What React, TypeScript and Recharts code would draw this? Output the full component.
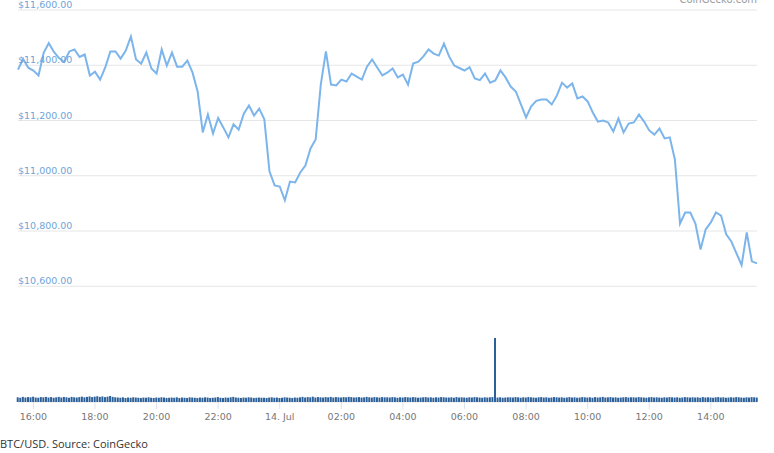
import { ComposedChart, Line, Bar, XAxis, YAxis, CartesianGrid } from 'recharts';

// minutes after 13 Jul 15:30, price every 10 min, volume every 5 min
const prices = [
  11384, 11423, 11391, 11381, 11363, 11445, 11480, 11448, 11426, 11412, 11450, 11457,
  11430, 11439, 11363, 11377, 11348, 11392, 11450, 11450, 11424, 11453, 11504, 11421,
  11406, 11446, 11388, 11370, 11457, 11399, 11446, 11395, 11395, 11417, 11374, 11305,
  11157, 11222, 11153, 11209, 11175, 11139, 11186, 11167, 11225, 11254, 11218, 11243,
  11204, 11016, 10965, 10961, 10911, 10979, 10976, 11012, 11037, 11099, 11131, 11330,
  11450, 11330, 11327, 11348, 11341, 11370, 11359, 11348, 11395, 11421, 11392, 11363,
  11374, 11388, 11356, 11366, 11330, 11406, 11413, 11432, 11457, 11442, 11435, 11478,
  11432, 11399, 11390, 11381, 11393, 11352, 11346, 11370, 11337, 11345, 11381, 11356,
  11323, 11305, 11258, 11211, 11251, 11271, 11276, 11276, 11258, 11290, 11337, 11319,
  11334, 11280, 11287, 11269, 11229, 11196, 11200, 11193, 11160, 11207, 11157, 11189,
  11193, 11222, 11196, 11164, 11149, 11171, 11135, 11139, 11059, 10827, 10867, 10867,
  10827, 10733, 10806, 10831, 10867, 10856, 10788, 10762, 10719, 10676, 10795, 10690,
  10683,
];

const volumes = [
  22, 20, 24, 21, 23, 22, 25, 21, 20, 23, 22, 24, 21, 23, 20, 22, 24, 21, 23, 22, 20, 24, 22, 21,
  23, 25, 22, 24, 26, 23, 25, 27, 24, 26, 23, 25, 28, 24, 22, 21, 20, 22, 19, 21, 20, 22, 21, 20,
  19, 21, 20, 22, 20, 19, 21, 20, 22, 21, 19, 20, 21, 20, 22, 19, 21, 20, 19, 22, 21, 20, 19, 21,
  20, 22, 21, 19, 20, 21, 23, 20, 19, 21, 20, 22, 24, 21, 20, 19, 21, 20, 22, 21, 19, 20, 21, 20,
  20, 19, 21, 22, 20, 21, 19, 20, 22, 21, 20, 19, 21, 20, 22, 24, 21, 23, 22, 25, 21, 23, 22, 21,
  23, 22, 24, 21, 23, 22, 21, 23, 22, 24, 23, 21, 22, 23, 21, 22, 24, 22, 21, 23, 22, 21, 23, 22,
  22, 21, 23, 22, 20, 22, 21, 23, 22, 21, 23, 22, 20, 21, 22, 23, 21, 22, 20, 22, 21, 23, 22, 21,
  21, 22, 20, 23, 21, 22, 21, 20, 22, 21, 23, 22, 21, 20, 22, 21, 22, 23, 300, 21, 22, 20, 21, 22,
  22, 21, 23, 22, 20, 22, 21, 23, 22, 21, 20, 22, 23, 21, 22, 20, 21, 23, 22, 21, 22, 20, 21, 23,
  21, 22, 20, 21, 23, 22, 21, 22, 20, 23, 21, 22, 24, 21, 22, 23, 21, 22, 20, 21, 22, 23, 21, 22,
  22, 21, 23, 22, 21, 20, 22, 23, 21, 22, 21, 20, 22, 21, 23, 22, 21, 22, 20, 21, 23, 22, 21, 22,
  21, 22, 20, 23, 21, 22, 21, 20, 22, 23, 21, 22, 20, 21, 22, 21, 23, 22, 21, 20, 22, 21, 23, 22,
  21,
];

const xTickMinutes = [30, 150, 270, 390, 510, 630, 750, 870, 990, 1110, 1230, 1350];
const xTickLabels = [
  '16:00', '18:00', '20:00', '22:00', '14. Jul', '02:00',
  '04:00', '06:00', '08:00', '10:00', '12:00', '14:00',
];
const yTicks = [10600, 10800, 11000, 11200, 11400, 11600];

const data = volumes.map((v, i) => ({
  t: i * 5,
  volume: v,
  price: i % 2 === 0 ? prices[i / 2] : null,
}));

const fmtPrice = (v: number) =>
  '$' + v.toLocaleString('en-US', { minimumFractionDigits: 2, maximumFractionDigits: 2 });

const renderPriceTick = (props: any) => {
  const { y, payload } = props;
  return (
    <text
      key={payload.value}
      x={18}
      y={y - 2}
      fill="#6fa3d9"
      fontSize={9.5}
      fontFamily="DejaVu Sans"
      textAnchor="start"
    >
      {fmtPrice(payload.value)}
    </text>
  );
};

export default function App() {
  return (
    <div
      style={{
        position: 'absolute',
        left: 0,
        top: 0,
        width: 774,
        height: 453,
        background: '#fff',
        overflow: 'hidden',
      }}
    >
      <div
        style={{
          position: 'absolute',
          right: 17,
          top: -5,
          fontSize: 10,
          lineHeight: '10px',
          color: '#999',
          fontFamily: 'DejaVu Sans',
        }}
      >
        CoinGecko.com
      </div>
      <ComposedChart
        width={774}
        height={453}
        data={data}
        margin={{ top: 10, right: 17, left: 18, bottom: 21 }}
      >
        <CartesianGrid yAxisId="price" vertical={false} stroke="#e6e6e6" />
        <XAxis
          dataKey="t"
          type="number"
          domain={[0, 1440]}
          ticks={xTickMinutes}
          tickFormatter={(v: number) => xTickLabels[xTickMinutes.indexOf(v)]}
          height={30}
          axisLine={false}
          tickLine={{ stroke: '#dde3ec' }}
          tickSize={7}
          tickMargin={4}
          tick={{ fill: '#777', fontSize: 9.5, fontFamily: 'DejaVu Sans' }}
          interval={0}
        />
        <YAxis
          yAxisId="price"
          width={1}
          mirror
          domain={[10181, 11600]}
          ticks={yTicks}
          interval={0}
          axisLine={false}
          tickLine={false}
          tick={renderPriceTick}
          allowDataOverflow
        />
        <YAxis yAxisId="vol" hide domain={[0, 1837]} />
        <Bar
          yAxisId="vol"
          dataKey="volume"
          fill="#2c6099"
          barSize={2}
          isAnimationActive={false}
        />
        <Line
          yAxisId="price"
          dataKey="price"
          stroke="#7cb5ec"
          strokeWidth={2}
          dot={false}
          connectNulls
          isAnimationActive={false}
        />
      </ComposedChart>
      <div
        style={{
          position: 'absolute',
          left: 0,
          top: 436,
          fontSize: 11,
          color: '#333',
          fontFamily: 'Open Sans',
          whiteSpace: 'nowrap',
        }}
      >
        BTC/USD. Source: CoinGecko
      </div>
    </div>
  );
}
